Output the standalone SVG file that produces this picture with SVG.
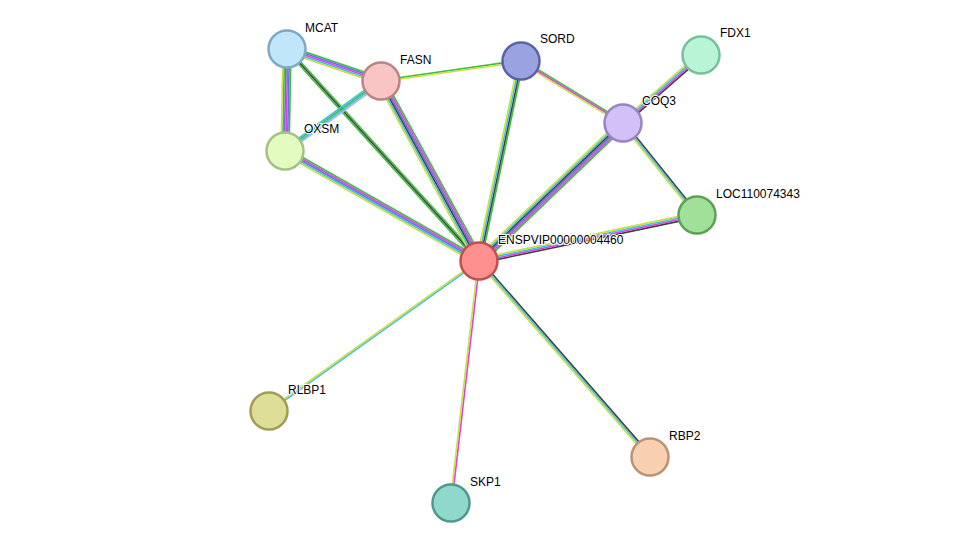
<svg xmlns="http://www.w3.org/2000/svg" width="976" height="549" viewBox="0 0 976 549">
<style>
.e line{stroke-width:1.6;fill:none}
.g{stroke:#3dbf3d}.m{stroke:#e040e0}.c{stroke:#40c0e0}.y{stroke:#c8e040}.k{stroke:#404040}.b{stroke:#6070e0}.p{stroke:#b0b8ff}
.n circle{stroke-width:2.5}
text{font-family:"Liberation Sans",Arial,sans-serif;font-size:12px;fill:#000;paint-order:stroke;stroke:#fff;stroke-width:2px}
</style>
<rect width="976" height="549" fill="#fff"/>
<g id="connectors" class="e">
<g transform="translate(287,49) rotate(18.8)"><line class="g" x1="0" y1="-3.2" x2="99.3" y2="-3.2"/><line class="b" x1="0" y1="-1.6" x2="99.3" y2="-1.6"/><line class="m" x1="0" y1="0" x2="99.3" y2="0"/><line class="c" x1="0" y1="1.6" x2="99.3" y2="1.6"/><line class="y" x1="0" y1="3.2" x2="99.3" y2="3.2"/></g>
<g transform="translate(287,49) rotate(91.1)"><line class="g" x1="0" y1="-4" x2="102" y2="-4"/><line class="b" x1="0" y1="-2.4" x2="102" y2="-2.4"/><line class="m" x1="0" y1="-0.8" x2="102" y2="-0.8"/><line class="b" x1="0" y1="0.8" x2="102" y2="0.8"/><line class="g" x1="0" y1="2.4" x2="102" y2="2.4"/><line class="y" x1="0" y1="4" x2="102" y2="4"/></g>
<g transform="translate(287,49) rotate(47.8)"><line class="g" x1="0" y1="-1.6" x2="286" y2="-1.6"/><line class="k" x1="0" y1="0" x2="286" y2="0"/><line class="g" x1="0" y1="1.6" x2="286" y2="1.6"/></g>
<g transform="translate(381,81) rotate(143.9)"><line class="p" x1="0" y1="-2.4" x2="118.8" y2="-2.4"/><line class="c" x1="0" y1="-0.8" x2="118.8" y2="-0.8"/><line class="g" x1="0" y1="0.8" x2="118.8" y2="0.8"/><line class="c" x1="0" y1="2.4" x2="118.8" y2="2.4"/></g>
<g transform="translate(381,81) rotate(-8.1)"><line class="g" x1="0" y1="-0.8" x2="141.4" y2="-0.8"/><line class="y" x1="0" y1="0.8" x2="141.4" y2="0.8"/></g>
<g transform="translate(381,81) rotate(61.4)"><line class="g" x1="0" y1="-4" x2="205" y2="-4"/><line class="m" x1="0" y1="-2.4" x2="205" y2="-2.4"/><line class="b" x1="0" y1="-0.8" x2="205" y2="-0.8"/><line class="k" x1="0" y1="0.8" x2="205" y2="0.8"/><line class="c" x1="0" y1="2.4" x2="205" y2="2.4"/><line class="y" x1="0" y1="4" x2="205" y2="4"/></g>
<g transform="translate(285,151) rotate(29.6)"><line class="g" x1="0" y1="-3.2" x2="223" y2="-3.2"/><line class="m" x1="0" y1="-1.6" x2="223" y2="-1.6"/><line class="b" x1="0" y1="0" x2="223" y2="0"/><line class="c" x1="0" y1="1.6" x2="223" y2="1.6"/><line class="y" x1="0" y1="3.2" x2="223" y2="3.2"/></g>
<g transform="translate(521,61) rotate(31.3)"><line class="g" x1="0" y1="-1.6" x2="119.4" y2="-1.6"/><line class="m" x1="0" y1="0" x2="119.4" y2="0"/><line class="y" x1="0" y1="1.6" x2="119.4" y2="1.6"/></g>
<g transform="translate(521,61) rotate(101.9)"><line class="g" x1="0" y1="-2.4" x2="204.4" y2="-2.4"/><line class="k" x1="0" y1="-0.8" x2="204.4" y2="-0.8"/><line class="c" x1="0" y1="0.8" x2="204.4" y2="0.8"/><line class="y" x1="0" y1="2.4" x2="204.4" y2="2.4"/></g>
<g transform="translate(701,55) rotate(138.9)"><line class="k" x1="0" y1="-2.4" x2="103.5" y2="-2.4"/><line class="m" x1="0" y1="-0.8" x2="103.5" y2="-0.8"/><line class="c" x1="0" y1="0.8" x2="103.5" y2="0.8"/><line class="y" x1="0" y1="2.4" x2="103.5" y2="2.4"/></g>
<g transform="translate(623,123) rotate(51.2)"><line class="k" x1="0" y1="-1.6" x2="118" y2="-1.6"/><line class="c" x1="0" y1="0" x2="118" y2="0"/><line class="y" x1="0" y1="1.6" x2="118" y2="1.6"/></g>
<g transform="translate(623,123) rotate(136.2)"><line class="g" x1="0" y1="-4" x2="199.4" y2="-4"/><line class="m" x1="0" y1="-2.4" x2="199.4" y2="-2.4"/><line class="b" x1="0" y1="-0.8" x2="199.4" y2="-0.8"/><line class="k" x1="0" y1="0.8" x2="199.4" y2="0.8"/><line class="c" x1="0" y1="2.4" x2="199.4" y2="2.4"/><line class="y" x1="0" y1="4" x2="199.4" y2="4"/></g>
<g transform="translate(697,215) rotate(168.1)"><line class="k" x1="0" y1="-2.4" x2="222.8" y2="-2.4"/><line class="m" x1="0" y1="-0.8" x2="222.8" y2="-0.8"/><line class="c" x1="0" y1="0.8" x2="222.8" y2="0.8"/><line class="y" x1="0" y1="2.4" x2="222.8" y2="2.4"/></g>
<g transform="translate(479,261) rotate(144.5)"><line class="c" x1="0" y1="-0.8" x2="258" y2="-0.8"/><line class="y" x1="0" y1="0.8" x2="258" y2="0.8"/></g>
<g transform="translate(479,261) rotate(96.6)"><line class="m" x1="0" y1="-0.8" x2="243.6" y2="-0.8"/><line class="y" x1="0" y1="0.8" x2="243.6" y2="0.8"/></g>
<g transform="translate(479,261) rotate(48.9)"><line class="k" x1="0" y1="-1.6" x2="260" y2="-1.6"/><line class="c" x1="0" y1="0" x2="260" y2="0"/><line class="y" x1="0" y1="1.6" x2="260" y2="1.6"/></g>
</g>
<g id="MCAT" class="n"><circle cx="287" cy="49" r="18.5" fill="#bfe6fb" stroke="#80a8c4"/><text x="305" y="32">MCAT</text></g>
<g id="FASN" class="n"><circle cx="381" cy="81" r="18.5" fill="#f8c4c4" stroke="#b88484"/><text x="400" y="64">FASN</text></g>
<g id="SORD" class="n"><circle cx="521" cy="61" r="18.5" fill="#9aa3e0" stroke="#5a63a8"/><text x="540" y="43">SORD</text></g>
<g id="FDX1" class="n"><circle cx="701" cy="55" r="18.5" fill="#b8f5d6" stroke="#78c09a"/><text x="720" y="37">FDX1</text></g>
<g id="COQ3" class="n"><circle cx="623" cy="123" r="18.5" fill="#d4c0f8" stroke="#9884c0"/><text x="642" y="105">COQ3</text></g>
<g id="OXSM" class="n"><circle cx="285" cy="151" r="18.5" fill="#e2fcc0" stroke="#a4c084"/><text x="304" y="133">OXSM</text></g>
<g id="LOC110074343" class="n"><circle cx="697" cy="215" r="18.5" fill="#a0e098" stroke="#5ea058"/><text x="716" y="198">LOC110074343</text></g>
<g id="ENSPVIP00000004460" class="n"><circle cx="479" cy="261" r="18.5" fill="#ff9090" stroke="#c05050"/><text x="498" y="244">ENSPVIP00000004460</text></g>
<g id="RLBP1" class="n"><circle cx="269" cy="411" r="18.5" fill="#dede98" stroke="#9e9e58"/><text x="288" y="394">RLBP1</text></g>
<g id="RBP2" class="n"><circle cx="650" cy="457" r="18.5" fill="#f8d0b0" stroke="#b89474"/><text x="669" y="440">RBP2</text></g>
<g id="SKP1" class="n"><circle cx="451" cy="503" r="18.5" fill="#90d8cc" stroke="#50988c"/><text x="470" y="486">SKP1</text></g>
</svg>
